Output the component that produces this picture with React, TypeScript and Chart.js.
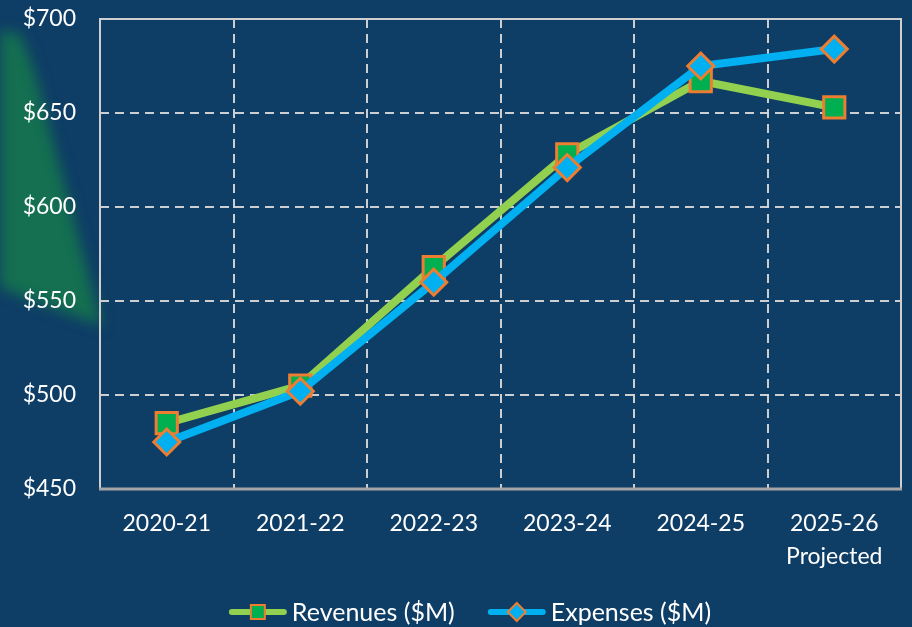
import React, { useEffect, useRef } from 'react';
import { Chart, registerables } from 'chart.js';

Chart.register(...registerables);

const categories: (string | string[])[] = ['2020-21', '2021-22', '2022-23', '2023-24', '2024-25', ['2025-26', 'Projected']];
const revenues = [485, 505, 568, 628, 667, 653];
const expenses = [475, 502, 560, 621, 675, 684];
const yTicks = [450, 500, 550, 600, 650, 700];
const seriesNames = ['Revenues ($M)', 'Expenses ($M)'];

const BG = '#0e3d66';
const REV_LINE = '#92d050';
const REV_FILL = '#00b050';
const EXP_LINE = '#00b0f0';
const MARKER_BORDER = '#ed7d31';
const FONT = 'Lato, "Open Sans", sans-serif';

const framePlugin = {
  id: 'frame',
  beforeDatasetsDraw(chart: any) {
    const { ctx, chartArea: a } = chart;
    ctx.save();
    ctx.strokeStyle = '#cfcfcf';
    ctx.lineWidth = 2;
    ctx.beginPath();
    ctx.moveTo(a.left, a.bottom);
    ctx.lineTo(a.left, a.top);
    ctx.lineTo(a.right, a.top);
    ctx.lineTo(a.right, a.bottom);
    ctx.stroke();
    ctx.strokeStyle = '#a6a6a6';
    ctx.lineWidth = 3;
    ctx.beginPath();
    ctx.moveTo(a.left - 1, a.bottom);
    ctx.lineTo(a.right + 1, a.bottom);
    ctx.stroke();
    ctx.restore();
  },
};

const legendPlugin = {
  id: 'customLegend',
  afterDraw(chart: any) {
    const { ctx } = chart;
    ctx.save();
    ctx.font = `25px ${FONT}`;
    const lineLen = 58;
    const gapText = 5;
    const gapItems = 33;
    const widths = seriesNames.map((n) => lineLen + gapText + ctx.measureText(n).width);
    const total = widths[0] + widths[1] + gapItems;
    let x = chart.width / 2 + 14 - total / 2;
    const y = 612;
    chart.data.datasets.forEach((ds: any, i: number) => {
      ctx.strokeStyle = ds.borderColor;
      ctx.lineWidth = 6;
      ctx.lineCap = 'round';
      ctx.beginPath();
      ctx.moveTo(x + 3, y);
      ctx.lineTo(x + lineLen - 3, y);
      ctx.stroke();
      const cx = x + lineLen / 2;
      ctx.lineWidth = 2;
      ctx.strokeStyle = MARKER_BORDER;
      ctx.fillStyle = ds.pointBackgroundColor;
      ctx.beginPath();
      if (ds.pointStyle === 'rect') {
        ctx.rect(cx - 7, y - 7, 14, 14);
      } else {
        ctx.moveTo(cx, y - 9);
        ctx.lineTo(cx + 9, y);
        ctx.lineTo(cx, y + 9);
        ctx.lineTo(cx - 9, y);
        ctx.closePath();
      }
      ctx.fill();
      ctx.stroke();
      ctx.fillStyle = '#ffffff';
      ctx.textBaseline = 'middle';
      ctx.textAlign = 'left';
      ctx.fillText(seriesNames[i], x + lineLen + gapText, y + 1);
      x += widths[i] + gapItems;
    });
    ctx.restore();
  },
};

export default function App() {
  const ref = useRef<HTMLCanvasElement>(null);
  useEffect(() => {
    document.body.style.margin = '0';
    const chart = new Chart(ref.current!, {
      type: 'line',
      data: {
        labels: categories,
        datasets: [
          {
            label: seriesNames[0],
            data: revenues,
            borderColor: REV_LINE,
            backgroundColor: REV_LINE,
            borderWidth: 8,
            pointStyle: 'rect',
            pointRadius: 15,
            pointHoverRadius: 15,
            pointBackgroundColor: REV_FILL,
            pointBorderColor: MARKER_BORDER,
            pointBorderWidth: 3,
            tension: 0,
            order: 1,
          },
          {
            label: seriesNames[1],
            data: expenses,
            borderColor: EXP_LINE,
            backgroundColor: EXP_LINE,
            borderWidth: 8,
            pointStyle: 'rectRot',
            pointRadius: 13,
            pointHoverRadius: 13,
            pointBackgroundColor: EXP_LINE,
            pointBorderColor: MARKER_BORDER,
            pointBorderWidth: 3,
            tension: 0,
            order: 0,
          },
        ],
      },
      options: {
        animation: false,
        responsive: false,
        layout: { autoPadding: false, padding: { left: 0, right: 11, top: 19, bottom: 0 } },
        plugins: { legend: { display: false }, tooltip: { enabled: false } },
        scales: {
          x: {
            offset: true,
            grid: {
              offset: true,
              color: 'rgba(215,215,215,0.95)',
              lineWidth: 2,
              drawTicks: false,
            },
            border: { display: false, dash: [9, 6] },
            ticks: {
              color: '#ffffff',
              font: { family: FONT, size: 23, lineHeight: 1.45 },
              padding: 18,
              maxRotation: 0,
            },
            afterFit(scale: any) {
              scale.height = 138;
              scale.paddingLeft = 0;
              scale.paddingRight = 0;
            },
          },
          y: {
            min: 450,
            max: 700,
            afterBuildTicks(scale: any) {
              scale.ticks = yTicks.map((v) => ({ value: v }));
            },
            grid: {
              color: 'rgba(215,215,215,0.95)',
              lineWidth: 2,
              drawTicks: false,
            },
            border: { display: false, dash: [9, 6] },
            ticks: {
              color: '#ffffff',
              font: { family: FONT, size: 23 },
              padding: 24,
              callback: (v: any) => '$' + v,
            },
            afterFit(scale: any) {
              scale.width = 100;
              scale.paddingTop = 0;
              scale.paddingBottom = 0;
            },
          },
        },
      },
      plugins: [framePlugin, legendPlugin],
    });
    return () => chart.destroy();
  }, []);

  return (
    <div style={{ position: 'relative', width: 912, height: 627, background: BG, overflow: 'hidden' }}>
      <div style={{ position: 'absolute', inset: 0, filter: 'blur(7px)' }}>
        <div
          style={{
            position: 'absolute',
            inset: 0,
            background: '#147050',
            clipPath: 'polygon(0px 30px, 20px 34px, 34px 70px, 102px 326px, 0px 288px)',
          }}
        />
      </div>
      <canvas ref={ref} width={912} height={627} style={{ position: 'absolute', left: 0, top: 0 }} />
    </div>
  );
}
